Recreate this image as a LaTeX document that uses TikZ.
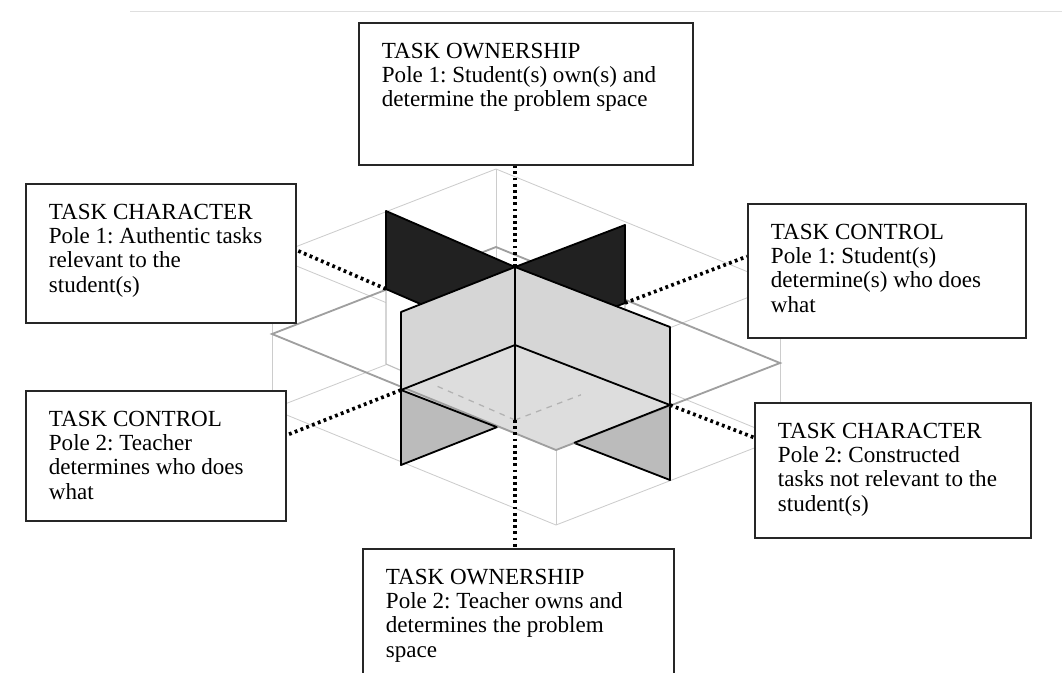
\documentclass[tikz,border=0pt]{standalone}
\usepackage{fontspec}
\setmainfont{Liberation Serif}
\frenchspacing
\usetikzlibrary{calc}
\newcommand{\polebox}[3]{\begin{minipage}[t][\dimexpr 0.025cm*#2-1cm\relax][t]{\dimexpr 0.025cm*#1-1.15cm\relax}\raggedright #3\end{minipage}}
\begin{document}
\begin{tikzpicture}[x=0.025cm,y=-0.025cm,
  cube/.style={gray!40,line width=.6pt},
  rim/.style={gray!75,line width=1.3pt},
  edge/.style={draw=black,line width=1.3pt,line join=round},
  hidden/.style={gray!60,line width=.9pt,dash pattern=on 4pt off 4pt},
  axis/.style={line width=2.6pt,dash pattern=on 2pt off 2.4pt},
  pole/.style={draw=black!85,line width=1.3pt,fill=white,inner xsep=.575cm,inner ysep=.5cm,
    anchor=north west,font=\fontsize{16.4pt}{17.3pt}\selectfont}]
\useasboundingbox (0,0) rectangle (1062,672);
\draw[gray!25] (130,11) -- (1062,11);

\coordinate (M) at (515,345);
\coordinate (C) at (515,267);
\coordinate (B) at (515,420);
\coordinate (Mup) at (670,405); \coordinate (Mum) at (386,289);
\coordinate (Mvp) at (625,303); \coordinate (Mvm) at (401,390);
\coordinate (Cup) at (670,327); \coordinate (Cum) at (386,211);
\coordinate (Cvp) at (625,225); \coordinate (Cvm) at (401,312);
\coordinate (Bup) at (670,480); \coordinate (Bum) at (386,364);
\coordinate (Bvp) at (625,378); \coordinate (Bvm) at (401,465);
\coordinate (L) at (272,334); \coordinate (F) at (556,450);
\coordinate (R) at (780,363); \coordinate (K) at (496,247);
\foreach \p/\x/\y in {L/272/334,F/556/450,R/780/363,K/496/247}
{
   \coordinate (\p-t) at (\x,\y-78);
   \coordinate (\p-b) at (\x,\y+75);
}

\draw[cube] (L-t) -- (F-t) -- (R-t) -- (K-t) -- cycle;
\draw[cube] (L-b) -- (F-b) -- (R-b) -- (K-b) -- cycle;
\foreach \p in {L,F,R,K}
   \draw[cube] (\p-t) -- (\p-b);

\filldraw[fill=white,draw=gray!50,line width=.8pt] (Mum) -- (M) -- (B) -- (Bum) -- cycle;
\filldraw[fill=white,draw=gray!50,line width=.8pt] (Mvp) -- (M) -- (B) -- (Bvp) -- cycle;
\filldraw[fill=gray!53,edge] (Mvm) -- (M) -- (B) -- (Bvm) -- cycle;
\filldraw[fill=gray!53,edge] (Mup) -- (M) -- (B) -- (Bup) -- cycle;

\fill[gray!27] (M) -- (Mvm) -- (F) -- (Mup) -- cycle;
\draw[hidden] (B) -- ($(B)!.6!(Bum)$);
\draw[hidden] (B) -- ($(B)!.6!(Bvp)$);
\draw[rim] (L) -- (F) -- (R) -- (K) -- cycle;
\draw[edge] (Mvm) -- (intersection of Mvm--F and Bvm--B);
\draw[edge] (Mup) -- (intersection of Mup--F and Bup--B);

\filldraw[fill=black!87,edge] (Cum) -- (C) -- (M) -- (Mum) -- cycle;
\filldraw[fill=black!87,edge] (Cvp) -- (C) -- (M) -- (Mvp) -- cycle;
\filldraw[fill=gray!32,edge] (Cvm) -- (C) -- (M) -- (Mvm) -- cycle;
\filldraw[fill=gray!32,edge] (Cup) -- (C) -- (M) -- (Mup) -- cycle;
\draw[edge] (C) -- (B);

\node[pole] (ownone) at (358,22) {\polebox{334}{142}{TASK OWNERSHIP\\Pole 1: Student(s) own(s) and\\determine the problem space}};
\node[pole] (charone) at (25,183) {\polebox{270}{139}{TASK CHARACTER\\Pole 1: Authentic tasks\\relevant to the\\student(s)}};
\node[pole] (ctrlone) at (747,203) {\polebox{278}{134}{TASK CONTROL\\Pole 1: Student(s)\\determine(s) who does\\what}};
\node[pole] (ctrltwo) at (25,390) {\polebox{260}{130}{TASK CONTROL\\Pole 2: Teacher\\determines who does\\what}};
\node[pole] (chartwo) at (754,402) {\polebox{276}{135}{TASK CHARACTER\\Pole 2: Constructed\\tasks not relevant to the\\student(s)}};
\node[pole] (owntwo) at (362,548) {\polebox{311}{140}{TASK OWNERSHIP\\Pole 2: Teacher owns and\\determines the problem\\space}};

\draw[axis] (C) -- (C |- ownone.south);
\draw[axis] (B) -- (B |- owntwo.north);
\draw[axis] (Mum) -- (intersection of Mum--257,233 and charone.north east--charone.south east);
\draw[axis] (Mup) -- (intersection of Mup--825,465 and chartwo.north west--chartwo.south west);
\draw[axis] (Mvp) -- (intersection of Mvp--735,261 and ctrlone.north west--ctrlone.south west);
\draw[axis] (Mvm) -- (intersection of Mvm--287,435 and ctrltwo.north east--ctrltwo.south east);

\end{tikzpicture}
\end{document}
